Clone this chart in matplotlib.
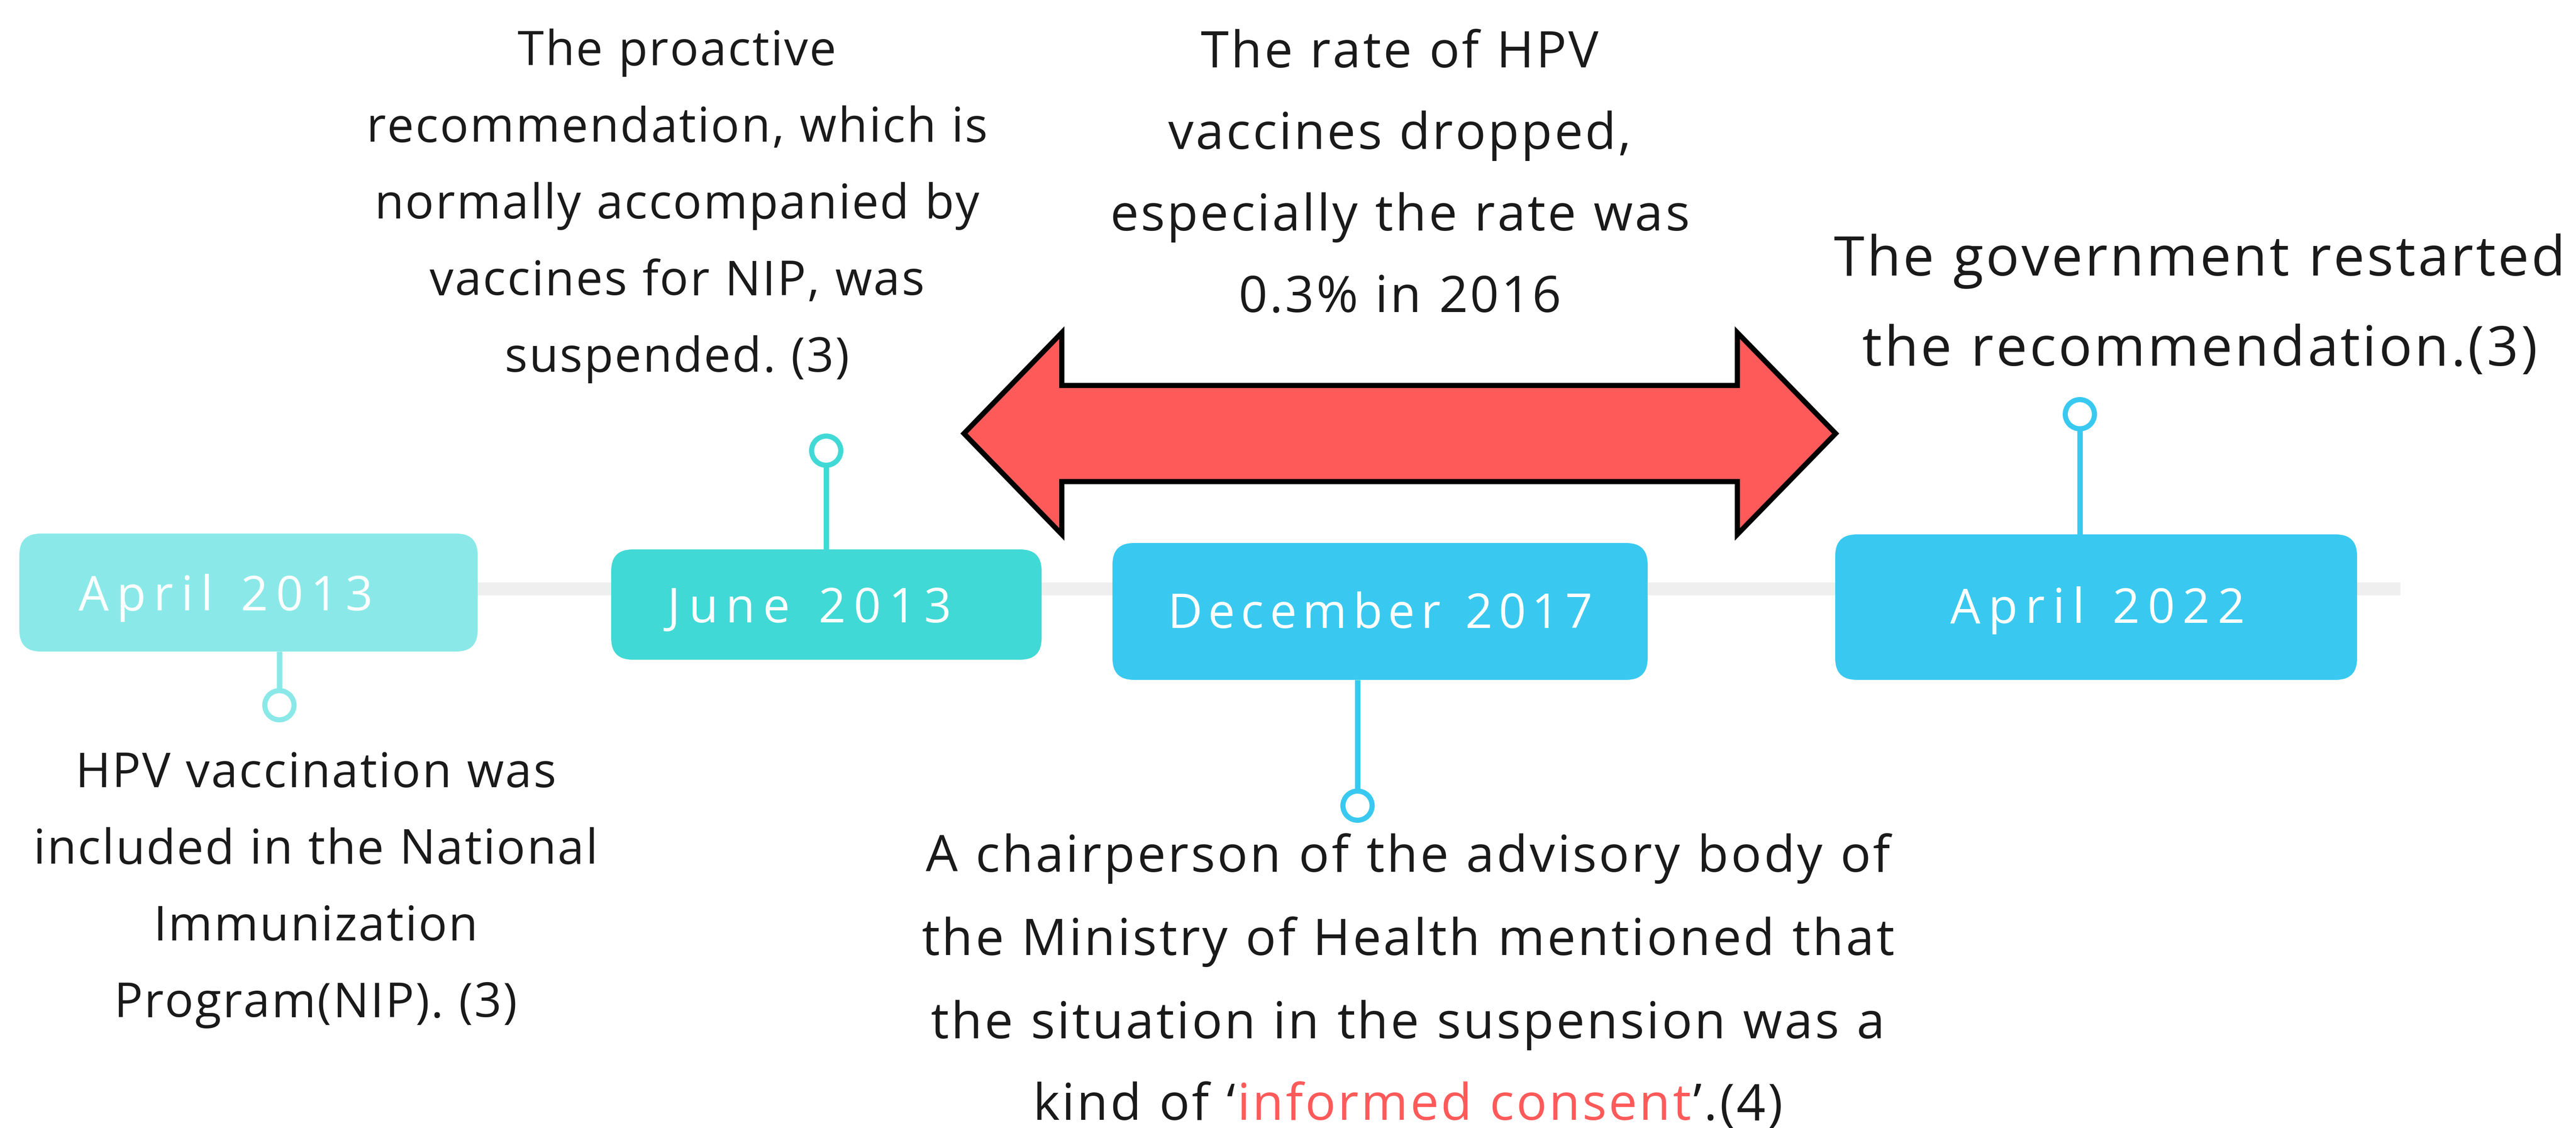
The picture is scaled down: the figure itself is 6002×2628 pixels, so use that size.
#!/usr/bin/env python3
"""Timeline of the HPV vaccine recommendation in Japan (2013-2022)."""

import matplotlib

matplotlib.use("Agg")
import matplotlib.pyplot as plt
from matplotlib.font_manager import FontProperties
from matplotlib.patches import Circle, FancyBboxPatch, Polygon, Rectangle

W, H, DPI = 6002, 2628, 100
FONT = ["Open Sans", "DejaVu Sans"]
TEXT_COLOR = "#1a1a1a"
RED = "#FF5A5A"

# --- events on the timeline -------------------------------------------------
EVENTS = ["April 2013", "June 2013", "December 2017", "April 2022"]
EVENT_COLORS = ["#8AE9E8", "#41D9D6", "#39C9F0", "#39C9F0"]
# box extents (x0, x1, y0, y1) in pixels, y measured from the top
EVENT_BOXES = [
    (45, 1113, 1243, 1518),
    (1424, 2427, 1280, 1537),
    (2592, 3839, 1265, 1584),
    (4276, 5492, 1245, 1584),
]
# label centre x, baseline y, spread width of the letter-spaced label
EVENT_LABEL_POS = [(526, 1422, 686), (1886, 1450, 662), (3215, 1463, 990), (4887, 1451, 686)]
# stem x and circle centre y for each event
EVENT_PINS = [(651, 1643), (1925, 1050), (3163, 1877), (4846, 965)]

# --- annotation texts ----------------------------------------------------------
NOTE_SUSPENDED = [
    "The proactive",
    "recommendation, which is",
    "normally accompanied by",
    "vaccines for NIP, was",
    "suspended. (3)",
]
NOTE_DROPPED = [
    "The rate of HPV",
    "vaccines dropped,",
    "especially the rate was",
    "0.3% in 2016",
]
NOTE_RESTARTED = [
    "The government restarted",
    "the recommendation.(3)",
]
NOTE_INCLUDED = [
    "HPV vaccination was",
    "included in the National",
    "Immunization",
    "Program(NIP). (3)",
]
NOTE_CHAIR = [
    "A chairperson of the advisory body of",
    "the Ministry of Health mentioned that",
    "the situation in the suspension was a",
]
NOTE_CHAIR_LAST = ["kind of \u2018", "informed consent", "\u2019.(4)"]
NOTE_CHAIR_LAST_COLORS = [TEXT_COLOR, RED, TEXT_COLOR]

# (lines, centre x, first baseline, line step, font size, letter tracking px)
NOTES = [
    (NOTE_SUSPENDED, 1577, 152, 178.5, 80, 3.5),
    (NOTE_DROPPED, 3261, 157, 190, 85, 5),
    (NOTE_RESTARTED, 5125, 642, 210, 93, 5.5),
    (NOTE_INCLUDED, 735, 1834, 178.5, 80, 3.5),
    (NOTE_CHAIR, 3280, 2031, 194, 85, 5.3),
]

ARROW = [
    (2246, 1010), (2474, 775), (2474, 898), (4048, 898), (4048, 775),
    (4277, 1010), (4048, 1245), (4048, 1122), (2474, 1122), (2474, 1245),
]

PX = 72.0 / DPI  # pixels -> points


def text_width(renderer, s, size):
    prop = FontProperties(family=FONT, size=size)
    w, _, _ = renderer.get_text_width_height_descent(s, prop, ismath=False)
    return w


def pen_offsets(renderer, s, size):
    """Approximate x of each character relative to the string start."""
    bar = text_width(renderer, "|", size)
    return [0.0] + [text_width(renderer, s[:i] + "|", size) - bar for i in range(1, len(s))]


def tracked_line(ax, renderer, cx, y, pieces, size, track, zorder=6):
    """Centred line drawn char by char with extra letter spacing.

    pieces is a list of (text, colour)."""
    s = "".join(p for p, _ in pieces)
    colors = [c for p, c in pieces for _ in p]
    offs = pen_offsets(renderer, s, size)
    total = text_width(renderer, s, size) + track * (len(s) - 1)
    x0 = cx - total / 2
    for i, ch in enumerate(s):
        if ch == " ":
            continue
        ax.text(x0 + offs[i] + track * i, y, ch, ha="left", va="baseline",
                fontsize=size, color=colors[i], family=FONT, zorder=zorder)


def main():
    fig = plt.figure(figsize=(W / DPI, H / DPI), dpi=DPI)
    ax = fig.add_axes([0, 0, 1, 1])
    ax.set_xlim(0, W)
    ax.set_ylim(H, 0)
    ax.axis("off")
    renderer = fig.canvas.get_renderer()

    # grey base line
    ax.add_patch(Rectangle((45, 1357), 5593 - 45, 30, facecolor="#EFEFEF",
                           edgecolor="none", zorder=1))

    # pins (stem + ring)
    for (x0, x1, y0, y1), (sx, cy), color in zip(EVENT_BOXES, EVENT_PINS, EVENT_COLORS):
        edge = y1 if cy > y1 else y0
        tip = cy - 34 if cy > y1 else cy + 34
        ax.plot([sx, sx], [edge, tip], color=color, lw=12.7 * PX,
                solid_capstyle="butt", zorder=2)
        ax.add_patch(Circle((sx, cy), 34, facecolor="white", edgecolor=color,
                            lw=12 * PX, zorder=3))

    # event boxes
    for (x0, x1, y0, y1), color in zip(EVENT_BOXES, EVENT_COLORS):
        ax.add_patch(FancyBboxPatch((x0, y0), x1 - x0, y1 - y0,
                                    boxstyle="round,pad=0,rounding_size=50",
                                    facecolor=color, edgecolor="none", zorder=4))

    label_size = 80
    for label, (cx, by, spread) in zip(EVENTS, EVENT_LABEL_POS):
        track = (spread - text_width(renderer, label, label_size)) / (len(label) - 1)
        tracked_line(ax, renderer, cx, by, [(label, "white")], label_size, track)

    # double arrow
    ax.add_patch(Polygon(ARROW, closed=True, facecolor=RED, edgecolor="black",
                         lw=12 * PX, joinstyle="miter", zorder=5))

    # annotation texts
    for lines, cx, base, step, size, track in NOTES:
        for i, line in enumerate(lines):
            tracked_line(ax, renderer, cx, base + i * step, [(line, TEXT_COLOR)],
                         size, track)

    # last line of the chairperson note, with the red phrase
    tracked_line(ax, renderer, 3280, 2031 + 3 * 194 - 4,
                 list(zip(NOTE_CHAIR_LAST, NOTE_CHAIR_LAST_COLORS)), 85, 5.3)

    fig.savefig("out.png", dpi=DPI, facecolor="white")
    plt.close(fig)


if __name__ == "__main__":
    main()
